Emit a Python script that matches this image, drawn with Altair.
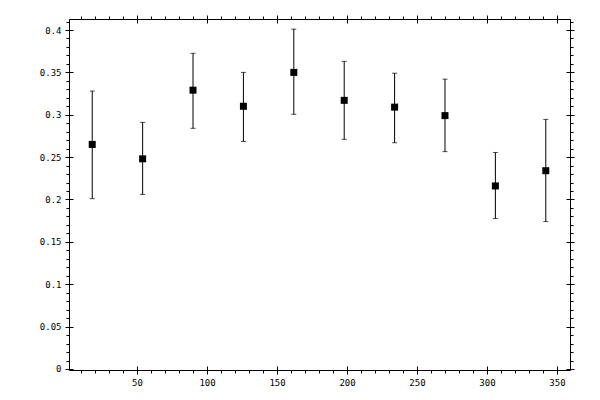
import altair as alt
import pandas as pd

# ---- data ----
ANGLE = [18, 54, 90, 126, 162, 198, 234, 270, 306, 342]
VALUE = [0.265, 0.248, 0.329, 0.310, 0.350, 0.317, 0.309, 0.299, 0.216, 0.234]
UPPER = [0.328, 0.291, 0.3725, 0.350, 0.401, 0.363, 0.349, 0.342, 0.2555, 0.2945]
LOWER = [0.201, 0.206, 0.284, 0.2685, 0.3005, 0.271, 0.267, 0.2565, 0.1775, 0.174]

# ---- tick values ----
X_MAJOR = [50, 100, 150, 200, 250, 300, 350]
X_MINOR = list(range(10, 360, 10))
Y_MAJOR = [0, 0.05, 0.1, 0.15, 0.2, 0.25, 0.3, 0.35, 0.4]
Y_MINOR = [round(i * 0.01, 2) for i in range(0, 42)]

X_DOMAIN = [1.4, 359.3]
Y_DOMAIN = [-0.0012, 0.413]

df = pd.DataFrame({"x": ANGLE, "y": VALUE, "hi": UPPER, "lo": LOWER})

xs = alt.Scale(domain=X_DOMAIN, nice=False, zero=False)
ys = alt.Scale(domain=Y_DOMAIN, nice=False, zero=False)

FONT = "DejaVu Sans Mono"


def ax(orient, values, size, offset=0, labels=False, domain=True, label_expr=""):
    kw = dict(
        orient=orient,
        values=values,
        tickSize=size,
        offset=offset,
        labels=labels,
        domain=domain,
        grid=False,
        title=None,
        ticks=True,
        tickColor="black",
        tickWidth=1,
        domainColor="black",
        domainWidth=1,
    )
    if labels:
        kw.update(
            labelExpr=label_expr,
            labelFont=FONT,
            labelFontSize=9,
            labelColor="black",
            labelPadding=5,
        )
    return alt.Axis(**kw)


base = alt.Chart(df)

bars = base.mark_rule(color="black", strokeWidth=1).encode(
    x=alt.X("x:Q", scale=xs,
            axis=ax("bottom", X_MINOR, 3, labels=True,
                    label_expr="datum.value % 50 == 0 ? datum.label : ''")),
    y=alt.Y("lo:Q", scale=ys,
            axis=ax("left", Y_MINOR, 3, labels=True,
                    label_expr="round(datum.value*100) % 5 == 0 ? format(datum.value, '~g') : ''")),
    y2="hi:Q",
)

cap_hi = base.mark_tick(orient="horizontal", size=5, thickness=1, color="black").encode(
    x=alt.X("x:Q", scale=xs, axis=ax("top", X_MINOR, 3)),
    y=alt.Y("hi:Q", scale=ys, axis=ax("right", Y_MINOR, 3)),
)

cap_lo = base.mark_tick(orient="horizontal", size=5, thickness=1, color="black").encode(
    x=alt.X("x:Q", scale=xs, axis=ax("bottom", X_MAJOR, 8, offset=-4, domain=False)),
    y=alt.Y("lo:Q", scale=ys, axis=ax("left", Y_MAJOR, 8, offset=-4, domain=False)),
)

pts = base.mark_square(size=49, color="black", opacity=1, filled=True, strokeWidth=0).encode(
    x=alt.X("x:Q", scale=xs, axis=ax("top", X_MAJOR, 8, offset=-4, domain=False)),
    y=alt.Y("y:Q", scale=ys, axis=ax("right", Y_MAJOR, 8, offset=-4, domain=False)),
)

chart = (
    alt.layer(bars, cap_hi, cap_lo, pts)
    .resolve_axis(x="independent", y="independent")
    .properties(
        width=501,
        height=351,
        autosize=alt.AutoSizeParams(type="none"),
        padding={"left": 61, "top": 11, "right": 20, "bottom": 25},
        background="white",
    )
    .configure_view(strokeWidth=0)
)

chart.save("out.html", embed_options={"renderer": "svg", "actions": False})
